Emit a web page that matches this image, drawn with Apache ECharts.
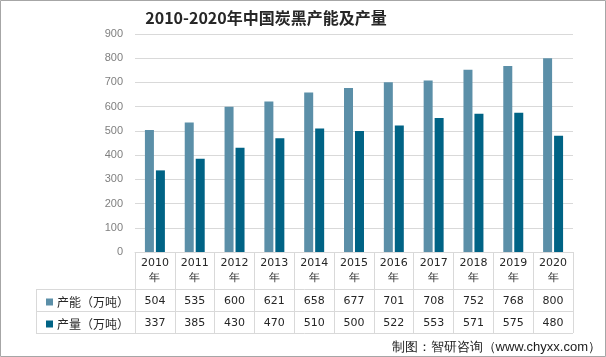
<!DOCTYPE html>
<html><head><meta charset="utf-8">
<script src="https://cdn.jsdelivr.net/npm/echarts@6/dist/echarts.min.js"></script>
<style>html,body{margin:0;padding:0;background:#fff}#c{width:606px;height:357px}</style>
</head><body><div id="c"></div>
<script>
var years = ['2010','2011','2012','2013','2014','2015','2016','2017','2018','2019','2020'];
var capacity = [504,535,600,621,658,677,701,708,752,768,800];
var production = [337,385,430,470,510,500,522,553,571,575,480];
var seriesNames = ['产能（万吨）','产量（万吨）'];
var yTicks = {min:0, max:900, interval:100};
var titleText = '2010-2020年中国炭黑产能及产量';
var sourceText = '制图：智研咨询（www.chyxx.com）';

var G = {left:135, right:573, top:34, bottom:252};
var rows = [252, 289, 311, 333];
var tableLeft = 36;
var lineC = '#d9d9d9';
var txtFont = 'DejaVu Sans';
var cjk = '"Noto Sans CJK SC", sans-serif';

var chart = echarts.init(document.getElementById('c'), null, {renderer:'canvas'});
var graphics = [
  {type:'rect', shape:{x:0.5,y:0.5,width:605,height:356}, style:{fill:'none', stroke:'#a6a6a6', lineWidth:1}},
  {type:'line', shape:{x1:tableLeft,y1:rows[1]+0.5,x2:G.right,y2:rows[1]+0.5}, style:{stroke:lineC,lineWidth:1}},
  {type:'line', shape:{x1:tableLeft,y1:rows[2]+0.5,x2:G.right,y2:rows[2]+0.5}, style:{stroke:lineC,lineWidth:1}},
  {type:'line', shape:{x1:tableLeft,y1:rows[3]+0.5,x2:G.right,y2:rows[3]+0.5}, style:{stroke:lineC,lineWidth:1}},
  {type:'line', shape:{x1:tableLeft+0.5,y1:rows[1],x2:tableLeft+0.5,y2:rows[3]}, style:{stroke:lineC,lineWidth:1}},
  {type:'text', right:5, bottom:3, style:{text:sourceText, fontSize:13, fill:'#1a1a1a', font:'13px '+cjk}}
];

var valueAxis = function(data, off){
  return {type:'category', data:data.map(String), position:'bottom', offset:off, gridIndex:0,
    axisLine:{show:false}, axisTick:{show:false}, splitLine:{show:false},
    axisLabel:{margin:0, interval:0, fontSize:11, lineHeight:13, color:'#262626', fontFamily:txtFont}};
};

chart.setOption({
  animation:false,
  backgroundColor:'#fff',
  title:{text:titleText, left:261, top:5, textAlign:'center',
    textStyle:{fontSize:16, fontWeight:'bold', color:'#262626', fontFamily:cjk}},
  legend:{orient:'vertical', left:41, top:291, itemWidth:7, itemHeight:7, itemGap:10,
    icon:'rect', selectedMode:false,
    textStyle:{fontSize:12, lineHeight:12, color:'#262626', fontFamily:cjk, padding:[0,0,0,-1]}},
  grid:{left:G.left, top:G.top, width:G.right-G.left, height:G.bottom-G.top, containLabel:false},
  xAxis:[
    {type:'category', data:years.map(function(y){return y+'\n年';}), position:'bottom',
      axisLine:{show:true, lineStyle:{color:lineC}},
      axisTick:{show:true, length:rows[3]-rows[0], lineStyle:{color:lineC}},
      axisLabel:{margin:4, interval:0, fontSize:11, lineHeight:15, color:'#262626', fontFamily:txtFont}},
    valueAxis(capacity, 43),
    valueAxis(production, 65)
  ],
  yAxis:{type:'value', min:yTicks.min, max:yTicks.max, interval:yTicks.interval,
    axisLine:{show:false}, axisTick:{show:false},
    splitLine:{lineStyle:{color:lineC}},
    axisLabel:{margin:12, fontSize:11, color:'#7f7f7f', fontFamily:'Liberation Sans'}},
  series:[
    {name:seriesNames[0], type:'bar', data:capacity, barWidth:9, barGap:'22%', xAxisIndex:0,
      itemStyle:{color:'#5b8fa8'}},
    {name:seriesNames[1], type:'bar', data:production, barWidth:9, xAxisIndex:0,
      itemStyle:{color:'#006385'}}
  ],
  graphic:graphics
});
</script></body></html>
